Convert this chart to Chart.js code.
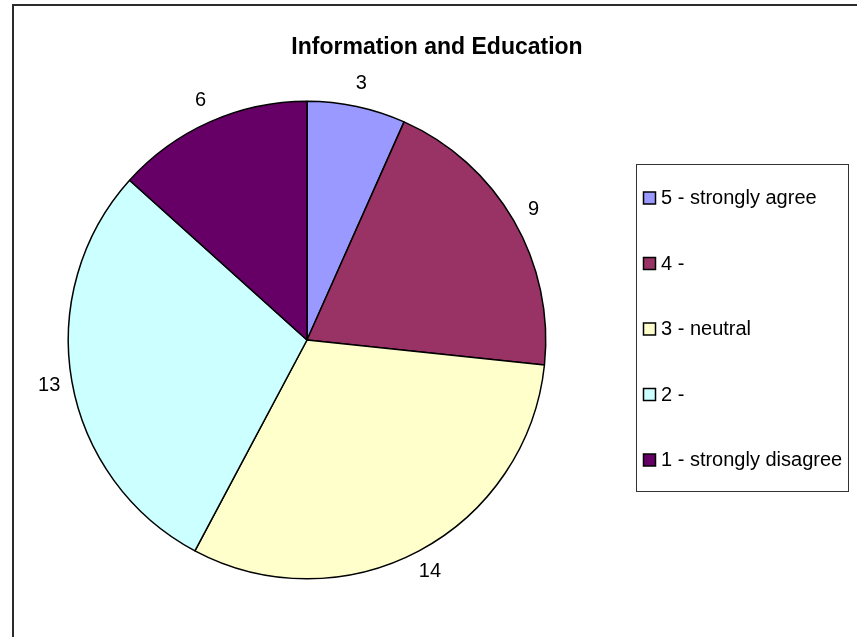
<!DOCTYPE html>
<html>
<head>
<meta charset="utf-8">
<title>Information and Education</title>
<script src="https://cdn.jsdelivr.net/npm/chart.js@4.4.1/dist/chart.umd.min.js"></script>
<style>
  html, body { margin: 0; padding: 0; background: #ffffff; }
  #chart { display: block; }
</style>
</head>
<body>
<canvas id="chart" width="857" height="637"></canvas>
<script>
// данные диаграммы
const chartTitle = "Information and Education";
const categories = ["5 - strongly agree", "4 -", "3 - neutral", "2 -", "1 - strongly disagree"];
const answers = [3, 9, 14, 13, 6];
const sliceColors = ["#9999FF", "#993366", "#FFFFCC", "#CCFFFF", "#660066"];

const FONT = "Arial, 'Liberation Sans', sans-serif";

// рамка, заголовок, подписи значений и легенда
const excelLook = {
    id: 'excelLook',
    beforeDraw(chart) {
        const ctx = chart.ctx;
        ctx.save();
        ctx.fillStyle = '#ffffff';
        ctx.fillRect(0, 0, chart.width, chart.height);
        ctx.strokeStyle = '#2b2b2b';
        ctx.lineWidth = 2;
        ctx.beginPath();
        ctx.moveTo(13, chart.height + 2);
        ctx.lineTo(13, 5);
        ctx.lineTo(chart.width + 2, 5);
        ctx.stroke();
        ctx.restore();
    },
    afterDatasetsDraw(chart) {
        const ctx = chart.ctx;
        const meta = chart.getDatasetMeta(0);
        ctx.save();

        // заголовок
        ctx.fillStyle = '#000000';
        ctx.font = 'bold 23px ' + FONT;
        ctx.textAlign = 'center';
        ctx.textBaseline = 'alphabetic';
        ctx.fillText(chartTitle, 437, 54);

        // подписи значений снаружи секторов
        ctx.font = '20px ' + FONT;
        ctx.textBaseline = 'middle';
        meta.data.forEach((arc, i) => {
            const mid = (arc.startAngle + arc.endAngle) / 2;
            const r = arc.outerRadius + 23;
            ctx.fillText(String(answers[i]), arc.x + Math.cos(mid) * r, arc.y + Math.sin(mid) * r);
        });

        // легенда
        ctx.strokeStyle = '#333333';
        ctx.lineWidth = 1;
        ctx.strokeRect(636.5, 164.5, 212, 327);
        ctx.textAlign = 'left';
        categories.forEach((name, i) => {
            const y = 197.5 + i * 65.5;
            ctx.fillStyle = sliceColors[i];
            ctx.fillRect(643.5, y - 5.5, 12, 12);
            ctx.strokeStyle = '#000000';
            ctx.lineWidth = 1.5;
            ctx.strokeRect(643.5, y - 5.5, 12, 12);
            ctx.fillStyle = '#000000';
            ctx.fillText(name, 661, y + 1);
        });
        ctx.restore();
    }
};

const chart = new Chart(document.getElementById('chart'), {
    type: 'pie',
    data: {
        labels: categories,
        datasets: [{
            data: answers,
            backgroundColor: sliceColors,
            borderColor: '#000000',
            borderWidth: 1.5,
            borderAlign: 'center'
        }]
    },
    options: {
        responsive: false,
        animation: false,
        layout: {
            padding: { left: 67.5, top: 100.5, right: 310.5, bottom: 57.5 }
        },
        plugins: {
            legend: { display: false },
            title: { display: false },
            tooltip: { enabled: false }
        }
    },
    plugins: [excelLook]
});
</script>
</body>
</html>
